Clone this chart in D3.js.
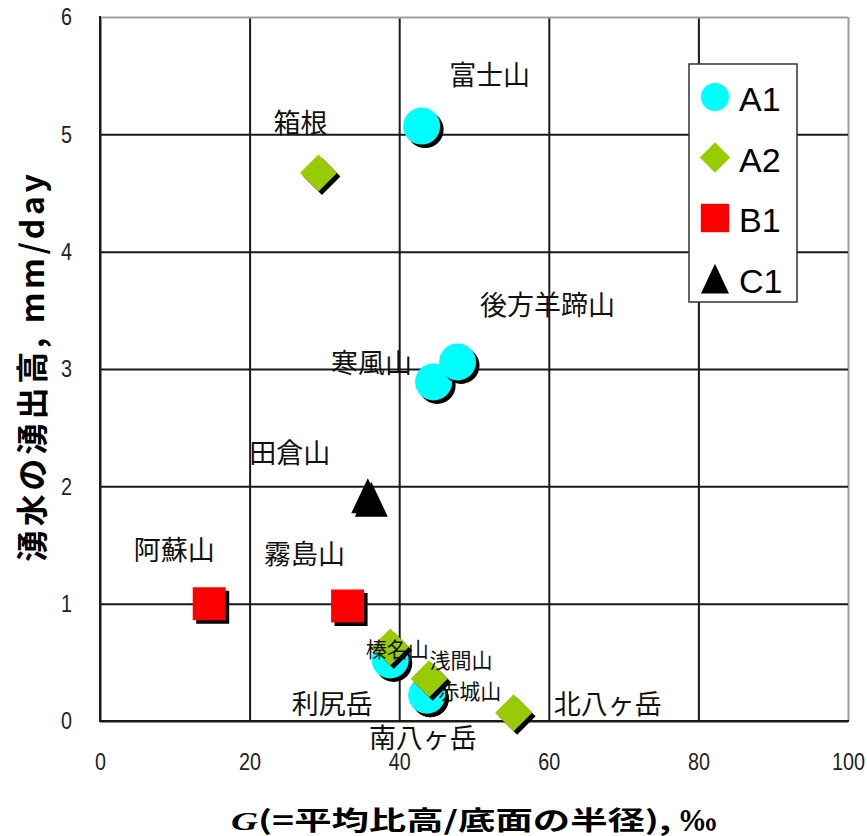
<!DOCTYPE html>
<html>
<head>
<meta charset="utf-8">
<script src="https://cdn.jsdelivr.net/npm/d3@7"></script>
<style>
  html, body { margin: 0; padding: 0; background: #fff; }
  svg { display: block; }
</style>
</head>
<body>
<svg id="chart" width="867" height="836"></svg>
<script>
// Volcano classes shown in the legend
const seriesNames = ["A1", "A2", "B1", "C1"];

// One entry per volcano: name, class, G (‰) and spring yield (mm/day)
const volcanoes   = ["富士山", "寒風山", "後方羊蹄山", "利尻岳", "赤城山", "南八ヶ岳",
                     "箱根", "榛名山", "浅間山", "北八ヶ岳", "阿蘇山", "霧島山", "田倉山"];
const volcanoClass = ["A1", "A1", "A1", "A1", "A1", "A1",
                      "A2", "A2", "A2", "A2", "B1", "B1", "C1"];
const gPermil     = [43.0, 44.6, 47.8, 38.8, 43.7, 43.7,
                     29.2, 38.8, 44.0, 55.3, 14.6, 33.1, 35.8];
const springYield = [5.07, 2.89, 3.06, 0.52, 0.22, 0.22,
                     4.67, 0.63, 0.36, 0.07, 1.00, 0.98, 1.92];

// Axis ticks
const xTicks = [0, 20, 40, 60, 80, 100];
const yTicks = [0, 1, 2, 3, 4, 5, 6];

// ---- layout ----
const plot = { left: 100, top: 17, right: 848, bottom: 721 };
const W = plot.right - plot.left, H = plot.bottom - plot.top;

const colors = { A1: "#00FFFF", A2: "#99CC00", B1: "#FF0000", C1: "#000000" };

// Label placement relative to each marker (pixels), and font size
const labelPlacement = {
  "富士山":   { dx: 68,  dy: -53, fs: 27 },
  "箱根":     { dx: -18, dy: -52, fs: 27 },
  "寒風山":   { dx: -62, dy: -20, fs: 27 },
  "後方羊蹄山": { dx: 90,  dy: -58, fs: 27 },
  "田倉山":   { dx: -78, dy: -44, fs: 27 },
  "阿蘇山":   { dx: -35, dy: -55, fs: 27 },
  "霧島山":   { dx: -43, dy: -54, fs: 27 },
  "榛名山":   { dx: 7,   dy: 1,   fs: 21 },
  "浅間山":   { dx: 32,  dy: -20, fs: 21 },
  "赤城山":   { dx: 43,  dy: -5,  fs: 21 },
  "利尻岳":   { dx: -58, dy: 43,  fs: 27 },
  "南八ヶ岳": { dx: -4,  dy: 41,  fs: 27 },
  "北八ヶ岳": { dx: 94,  dy: -10, fs: 27 }
};

const points = volcanoes.map((name, i) => ({
  name, cls: volcanoClass[i], g: gPermil[i], v: springYield[i]
}));

const svg = d3.select("#chart");
const x = d3.scaleLinear().domain([0, 100]).range([plot.left, plot.right]);
const y = d3.scaleLinear().domain([0, 6]).range([plot.bottom, plot.top]);

const tickFont = "'Liberation Sans', Arial, sans-serif";
const cjkFont = "'Noto Sans CJK JP', 'Noto Sans', sans-serif";

// ---- grid + tick labels via d3 axes ----
const gx = svg.append("g")
  .attr("transform", `translate(0,${plot.bottom})`)
  .call(d3.axisBottom(x).tickValues(xTicks).tickSize(-H).tickPadding(32).tickFormat(d3.format("d")));
const gy = svg.append("g")
  .attr("transform", `translate(${plot.left},0)`)
  .call(d3.axisLeft(y).tickValues(yTicks).tickSize(-W).tickPadding(28).tickFormat(d3.format("d")));

[gx, gy].forEach(g => {
  g.select(".domain").remove();
  g.selectAll(".tick line").attr("stroke", "#1a1a1a").attr("stroke-width", 2);
  g.selectAll(".tick text")
    .attr("fill", "#222")
    .style("font-family", tickFont)
    .style("font-size", "24px")
    // narrow, tall digits
    .attr("textLength", d => String(d).length * 11)
    .attr("lengthAdjust", "spacingAndGlyphs");
});
// top and right frame edges are lighter
gx.selectAll(".tick").filter(d => d === 100).select("line").attr("stroke", "#a0a0a0");
gy.selectAll(".tick").filter(d => d === 6).select("line").attr("stroke", "#a0a0a0");
// left and bottom axis lines
svg.append("line").attr("x1", plot.left).attr("x2", plot.left).attr("y1", plot.top - 1).attr("y2", plot.bottom + 1)
  .attr("stroke", "#1a1a1a").attr("stroke-width", 2);
svg.append("line").attr("x1", plot.left - 1).attr("x2", plot.right + 1).attr("y1", plot.bottom).attr("y2", plot.bottom)
  .attr("stroke", "#1a1a1a").attr("stroke-width", 2);

// ---- marker shapes ----
function markerPath(cls, k) {
  const p = d3.path();
  if (cls === "A1") {
    const r = 18.5 * k; p.moveTo(r, 0); p.arc(0, 0, r, 0, 2 * Math.PI);
  } else if (cls === "A2") {
    const h = 18.5 * k; p.moveTo(0, -h); p.lineTo(h, 0); p.lineTo(0, h); p.lineTo(-h, 0); p.closePath();
  } else if (cls === "B1") {
    const s = 16.5 * k; p.rect(-s, -s, 2 * s, 2 * s);
  } else {
    const w = 16.5 * k, h = 17.5 * k; p.moveTo(0, -h); p.lineTo(w, h); p.lineTo(-w, h); p.closePath();
  }
  return p.toString();
}

// ---- markers, drawn series by series with a drop shadow ----
const markerLayer = svg.append("g");
seriesNames.forEach(cls => {
  points.filter(d => d.cls === cls).forEach(d => {
    const g = markerLayer.append("g").attr("transform", `translate(${x(d.g)},${y(d.v)})`);
    g.append("path").attr("d", markerPath(cls, 1)).attr("fill", "#000")
      .attr("transform", "translate(3.5,3.5)");
    g.append("path").attr("d", markerPath(cls, 1)).attr("fill", colors[cls]);
  });
});

// ---- volcano name labels ----
svg.append("g").selectAll("text").data(points).join("text")
  .attr("x", d => x(d.g) + labelPlacement[d.name].dx)
  .attr("y", d => y(d.v) + labelPlacement[d.name].dy)
  .attr("text-anchor", "middle")
  .attr("dominant-baseline", "central")
  .style("font-family", cjkFont)
  .style("font-size", d => labelPlacement[d.name].fs + "px")
  .attr("fill", "#111")
  .text(d => d.name);

// ---- legend ----
const legend = svg.append("g");
legend.append("rect").attr("x", 689).attr("y", 64).attr("width", 108).attr("height", 238)
  .attr("fill", "#fff").attr("stroke", "#333").attr("stroke-width", 1.5);
const legendScale = { A1: 0.76, A2: 0.82, B1: 0.86, C1: 0.85 };
seriesNames.forEach((cls, i) => {
  const cy = 97 + i * 60.5;
  legend.append("path").attr("d", markerPath(cls, legendScale[cls]))
    .attr("transform", `translate(715,${cy})`).attr("fill", colors[cls]);
  legend.append("text").attr("x", 739).attr("y", cy + 14)
    .style("font-family", "'Liberation Sans', Arial, sans-serif")
    .style("font-size", "34px").attr("fill", "#000").text(cls);
});

// ---- axis titles ----
const xTitle = svg.append("text")
  .attr("x", 474).attr("y", 830)
  .attr("text-anchor", "middle")
  .attr("textLength", 486).attr("lengthAdjust", "spacingAndGlyphs")
  .style("font-family", cjkFont).style("font-size", "26px").style("font-weight", "bold")
  .attr("fill", "#000");
xTitle.append("tspan").style("font-style", "italic").style("font-family", "'Liberation Serif', serif").text("G");
xTitle.append("tspan").text("(=平均比高/底面の半径), ‰");

svg.append("text")
  .attr("transform", "translate(44,368) rotate(-90)")
  .attr("text-anchor", "middle")
  .attr("textLength", 388).attr("lengthAdjust", "spacing")
  .style("font-family", cjkFont).style("font-size", "32px").style("font-weight", "bold")
  .attr("fill", "#000")
  .text("湧水の湧出高, mm/day");
</script>
</body>
</html>
